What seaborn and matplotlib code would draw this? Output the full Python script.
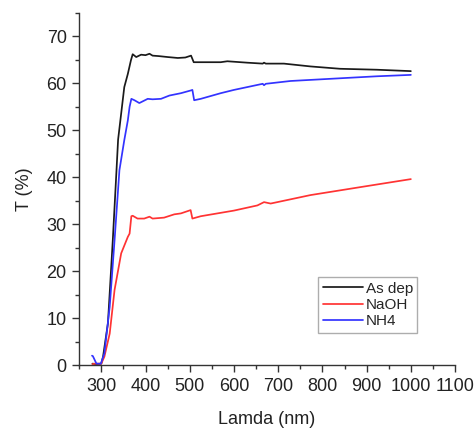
import numpy as np
import pandas as pd
import matplotlib
matplotlib.use("Agg")
import matplotlib.pyplot as plt
from matplotlib.ticker import MultipleLocator
import seaborn as sns

# ── data ──
as_dep_lam = [280, 290, 300, 304, 315, 326, 334, 338, 352, 360, 367, 371, 379, 390, 400,
              409, 416, 430, 450, 473, 490, 503, 509, 525, 570, 585, 630, 665, 668, 672,
              713, 773, 840, 923, 1000]
as_dep_T = [0.3, 0.2, 0.3, 1.8, 8.9, 26.6, 40.8, 48.0, 59.2, 62.0, 64.9, 66.2, 65.6, 66.1, 66.0,
            66.3, 65.9, 65.8, 65.6, 65.4, 65.5, 65.9, 64.5, 64.5, 64.5, 64.7, 64.4, 64.2, 64.4, 64.2,
            64.2, 63.6, 63.1, 62.9, 62.6]

naoh_lam = [280, 285, 300, 307, 319, 330, 345, 360, 364, 368, 371, 382, 397, 409, 416, 442,
            465, 480, 502, 506, 525, 600, 653, 668, 683, 773, 886, 1000]
naoh_T = [0.2, 0.3, 0.3, 1.8, 6.7, 16.0, 23.8, 27.3, 28.0, 31.7, 31.8, 31.2, 31.2, 31.6, 31.2, 31.4,
          32.1, 32.3, 33.0, 31.2, 31.7, 32.9, 34.0, 34.7, 34.4, 36.2, 37.9, 39.6]

nh4_lam = [279, 281, 289, 299, 307, 319, 330, 341, 352, 360, 364, 368, 375, 386, 405, 416,
           435, 454, 480, 503, 506, 510, 525, 570, 600, 665, 668, 672, 728, 825, 923, 1000]
nh4_T = [2.0, 1.9, 0.3, 0.3, 2.5, 12.4, 26.6, 41.5, 47.9, 52.1, 55.0, 56.7, 56.4, 55.8, 56.7, 56.6,
         56.7, 57.4, 57.9, 58.5, 58.6, 56.4, 56.7, 57.9, 58.6, 59.9, 59.6, 59.9, 60.5, 61.0, 61.5, 61.8]

labels = ["As dep", "NaOH", "NH4"]
colors = ["#1a1a1a", "#ff3333", "#3333ff"]

df = pd.concat([
    pd.DataFrame({"lam": as_dep_lam, "T": as_dep_T, "sample": labels[0]}),
    pd.DataFrame({"lam": naoh_lam, "T": naoh_T, "sample": labels[1]}),
    pd.DataFrame({"lam": nh4_lam, "T": nh4_T, "sample": labels[2]}),
], ignore_index=True)

sns.set_style("ticks")
plt.rcParams["font.family"] = ["Liberation Sans", "DejaVu Sans"]

fig = plt.figure(figsize=(4.77, 4.30), dpi=100)
ax = fig.add_axes([0.166, 0.151, 0.788, 0.819])

sns.lineplot(data=df, x="lam", y="T", hue="sample", palette=dict(zip(labels, colors)),
             estimator=None, sort=False, linewidth=1.25, ax=ax)

ax.set_xlim(250, 1100)
ax.set_ylim(0, 75)
ax.xaxis.set_minor_locator(MultipleLocator(50))
ax.yaxis.set_minor_locator(MultipleLocator(5))
ax.set_xticks(range(300, 1101, 100))
ax.set_yticks(range(0, 71, 10))
ax.tick_params(which="major", direction="out", length=5, width=1, labelsize=13, colors="#333333",
               labelcolor="#222222", pad=4)
ax.tick_params(which="minor", direction="out", length=3, width=1, colors="#333333")
for s in ["top", "right"]:
    ax.spines[s].set_visible(False)
for s in ["left", "bottom"]:
    ax.spines[s].set_color("#333333")
    ax.spines[s].set_linewidth(1)

ax.set_xlabel("Lamda (nm)", fontsize=13, color="#222222", labelpad=12)
ax.set_ylabel("T (%)", fontsize=13, color="#222222", labelpad=10)

leg = ax.legend(loc="upper left", bbox_to_anchor=(0.636, 0.25), fontsize=11,
                frameon=True, fancybox=False, edgecolor="#999999", handlelength=2.6,
                handletextpad=0.2, borderpad=0.3, labelspacing=0.15, borderaxespad=0)
leg.get_frame().set_linewidth(1)

fig.savefig("out.png", dpi=100)
